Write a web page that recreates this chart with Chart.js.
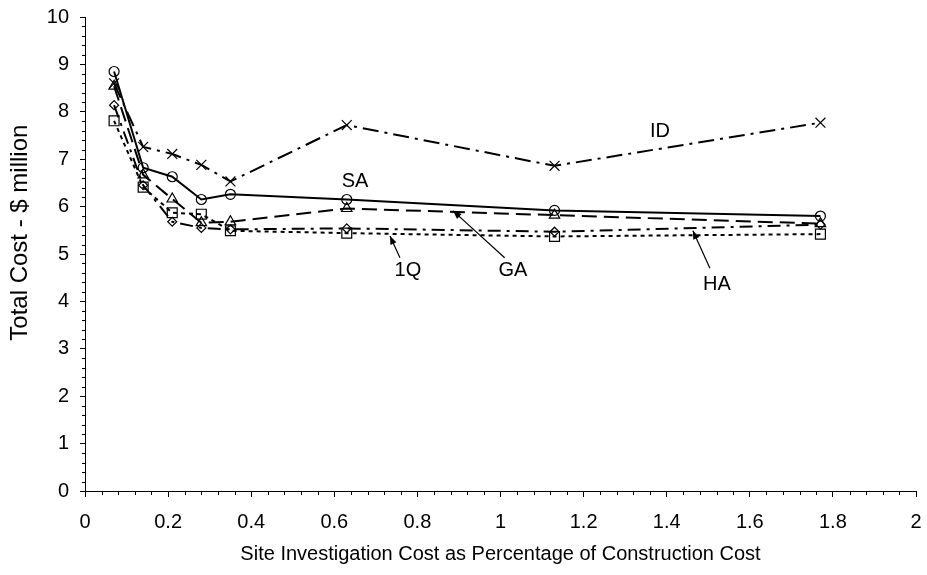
<!DOCTYPE html>
<html>
<head>
<meta charset="utf-8">
<script src="https://cdn.jsdelivr.net/npm/chart.js@4/dist/chart.umd.min.js"></script>
<style>
html,body{margin:0;padding:0;background:#fff;}
#wrap{width:927px;height:575px;position:relative;}
</style>
</head>
<body>
<div id="wrap"><canvas id="c" width="927" height="575"></canvas></div>
<script>
// Data
const xValues = [0.07, 0.14, 0.21, 0.28, 0.35, 0.63, 1.13, 1.77];
const seriesNames = ['SA', 'ID', 'GA', 'HA', '1Q'];
const saValues = [8.85, 6.82, 6.63, 6.15, 6.26, 6.15, 5.92, 5.80];
const idValues = [8.60, 7.26, 7.11, 6.88, 6.53, 7.72, 6.86, 7.77];
const gaValues = [8.54, 6.67, 6.16, 5.66, 5.68, 5.96, 5.82, 5.64];
const haValues = [8.14, 6.45, 5.68, 5.55, 5.52, 5.54, 5.47, 5.62];
const q1Values = [7.81, 6.41, 5.87, 5.84, 5.49, 5.44, 5.37, 5.42];
const xTickLabels = ['0','0.2','0.4','0.6','0.8','1','1.2','1.4','1.6','1.8','2'];
const yTickLabels = ['0','1','2','3','4','5','6','7','8','9','10'];
const xTitle = 'Site Investigation Cost as Percentage of Construction Cost';
const yTitle = 'Total Cost - $ million';

// Annotation labels (in data coordinates) and arrows
const labelTexts = ['SA', 'ID', 'GA', '1Q', 'HA'];
const labelX = [0.65, 1.384, 1.03, 0.777, 1.521];
const labelY = [6.54, 7.59, 4.66, 4.66, 4.35];
const arrowFromX = [null, null, 1.01, 0.758, 1.504];
const arrowFromY = [null, null, 4.92, 4.92, 4.70];
const arrowToX = [null, null, 0.886, 0.734, 1.463];
const arrowToY = [null, null, 5.91, 5.38, 5.49];

const FONT = "'Liberation Sans', Arial, sans-serif";

function pts(vals){ return xValues.map((x,i)=>({x:x, y:vals[i]})); }

const styles = {
  SA: {dash: [], style: 'circle', r: 5},
  ID: {dash: [16,6,3,6], style: 'crossRot', r: 7},
  GA: {dash: [15,7], style: 'triangle', r: 6},
  HA: {dash: [13,6,3,6], style: 'rectRot', r: 4.5},
  '1Q': {dash: [4,4], style: 'rect', r: 7}
};
const valueMap = {SA: saValues, ID: idValues, GA: gaValues, HA: haValues, '1Q': q1Values};

const datasets = seriesNames.map(n => ({
  label: n,
  data: pts(valueMap[n]),
  borderColor: '#000',
  borderWidth: 2,
  borderDash: styles[n].dash,
  pointStyle: styles[n].style,
  pointRadius: styles[n].r,
  pointBorderWidth: 1.2,
  pointBorderColor: '#000',
  pointBackgroundColor: 'rgba(0,0,0,0)',
  fill: false,
  tension: 0
}));

const extras = {
  id: 'extras',
  afterDraw(chart){
    const ctx = chart.ctx;
    const xs = chart.scales.x, ys = chart.scales.y;
    ctx.save();
    ctx.strokeStyle = '#000';
    ctx.lineWidth = 1;
    ctx.beginPath();
    for (let i = 0; i <= 50; i++) {
      if (i % 5 === 0) continue;
      const px = Math.round(xs.getPixelForValue(i * 0.04)) + 0.5;
      ctx.moveTo(px, ys.bottom);
      ctx.lineTo(px, ys.bottom + 4);
    }
    for (let i = 0; i <= 50; i++) {
      if (i % 5 === 0) continue;
      const py = Math.round(ys.getPixelForValue(i * 0.2)) + 0.5;
      ctx.moveTo(xs.left, py);
      ctx.lineTo(xs.left - 3, py);
    }
    ctx.stroke();

    // y axis title
    ctx.fillStyle = '#000';
    ctx.save();
    ctx.font = "24px " + FONT;
    ctx.textAlign = 'center';
    ctx.textBaseline = 'middle';
    ctx.translate(20, ys.getPixelForValue(5.45));
    ctx.rotate(-Math.PI/2);
    ctx.fillText(yTitle, 0, 0);
    ctx.restore();

    // annotations
    ctx.font = "20px " + FONT;
    ctx.textAlign = 'center';
    ctx.textBaseline = 'middle';
    labelTexts.forEach((t,i)=>{
      ctx.fillText(t, xs.getPixelForValue(labelX[i]), ys.getPixelForValue(labelY[i]));
      if (arrowFromX[i] !== null) {
        const x1 = xs.getPixelForValue(arrowFromX[i]), y1 = ys.getPixelForValue(arrowFromY[i]);
        const x2 = xs.getPixelForValue(arrowToX[i]), y2 = ys.getPixelForValue(arrowToY[i]);
        ctx.beginPath();
        ctx.lineWidth = 1.2;
        ctx.moveTo(x1,y1); ctx.lineTo(x2,y2); ctx.stroke();
        const a = Math.atan2(y2-y1, x2-x1);
        const L = 9, w = 0.38;
        ctx.beginPath();
        ctx.moveTo(x2,y2);
        ctx.lineTo(x2 - L*Math.cos(a-w), y2 - L*Math.sin(a-w));
        ctx.lineTo(x2 - L*Math.cos(a+w), y2 - L*Math.sin(a+w));
        ctx.closePath();
        ctx.fill();
      }
    });
    ctx.restore();
  }
};

new Chart(document.getElementById('c'), {
  type: 'line',
  data: { datasets },
  options: {
    responsive: false,
    animation: false,
    layout: { padding: { top: 17, right: 11, left: 0, bottom: 0 } },
    plugins: { legend: { display: false }, tooltip: { enabled: false } },
    scales: {
      x: {
        type: 'linear', min: 0, max: 2,
        afterFit(s){ s.height = 84; s.paddingLeft = 0; s.paddingRight = 0; },
        afterBuildTicks(s){ s.ticks = xTickLabels.map(v=>({value: parseFloat(v)})); },
        ticks: { stepSize: 0.2, color: '#000', padding: 13, maxRotation: 0, autoSkip: false,
          font: { family: FONT, size: 20 },
          callback: (v, i) => xTickLabels[i] },
        grid: { drawOnChartArea: false, drawTicks: true, tickLength: 6, color: '#000', lineWidth: 1 },
        border: { display: true, color: '#000', width: 1 },
        title: { display: true, text: xTitle,
          color: '#000', font: { family: FONT, size: 20 }, padding: { top: 0, bottom: 9 } }
      },
      y: {
        type: 'linear', min: 0, max: 10,
        afterFit(s){ s.width = 85; s.paddingTop = 0; s.paddingBottom = 0; },
        afterBuildTicks(s){ s.ticks = yTickLabels.map(v=>({value: parseFloat(v)})); },
        ticks: { stepSize: 1, color: '#000', padding: 11, autoSkip: false,
          font: { family: FONT, size: 20 },
          callback: (v, i) => yTickLabels[i] },
        grid: { drawOnChartArea: false, drawTicks: true, tickLength: 5, color: '#000', lineWidth: 1 },
        border: { display: true, color: '#000', width: 1 },
        title: { display: false }
      }
    }
  },
  plugins: [extras]
});
</script>
</body>
</html>
